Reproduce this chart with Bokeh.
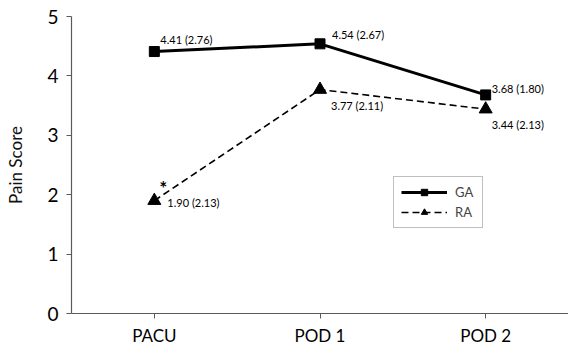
from bokeh.plotting import figure
from bokeh.models import FactorRange, Range1d, Legend, LegendItem, ColumnDataSource
from bokeh.embed import file_html
from bokeh.resources import INLINE
from bokeh.core.properties import value

categories = ["PACU", "POD 1", "POD 2"]
ga_mean = [4.41, 4.54, 3.68]
ga_sd = [2.76, 2.67, 1.80]
ra_mean = [1.90, 3.77, 3.44]
ra_sd = [2.13, 2.11, 2.13]
y_ticks = [0, 1, 2, 3, 4, 5]

FONT = "Lato"
AX_COLOR = "#5a5a5a"

p = figure(width=568, height=348, x_range=FactorRange(factors=categories, range_padding=0),
           y_range=Range1d(0, 5), output_backend="svg", toolbar_location=None,
           min_border_left=71, min_border_right=0, min_border_top=16, min_border_bottom=0)
p.outline_line_color = None
p.grid.visible = False

ga_src = ColumnDataSource(dict(x=categories, y=ga_mean,
                               lab=[f"{m:.2f} ({s:.2f})" for m, s in zip(ga_mean, ga_sd)],
                               dx=[6, 12, 6], dy=[-12, -9, -6]))
ra_src = ColumnDataSource(dict(x=categories, y=ra_mean,
                               lab=[f"{m:.2f} ({s:.2f})" for m, s in zip(ra_mean, ra_sd)],
                               dx=[13, 11, 6], dy=[2, 16, 15]))

ga_line = p.line("x", "y", source=ga_src, line_color="black", line_width=3)
ga_pts = p.scatter("x", "y", source=ga_src, marker="square", size=10, fill_color="black", line_color="black")
ra_line = p.line("x", "y", source=ra_src, line_color="black", line_width=1.6, line_dash="7 4")
ra_pts = p.scatter("x", "y", source=ra_src, marker="triangle", size=13, fill_color="black", line_color="black")

for src in (ga_src, ra_src):
    p.text("x", "y", text="lab", source=src, x_offset="dx", y_offset="dy",
           text_font=value(FONT), text_font_size="11px", text_baseline="middle",
           text_color="black")
star_src = ColumnDataSource(dict(x=[categories[0]], y=[ra_mean[0]], t=["*"]))
p.text("x", "y", text="t", source=star_src, x_offset=5, y_offset=-13,
       text_font=value(FONT), text_font_size="19px", text_font_style="bold",
       text_baseline="middle", text_color="black")

# axes
p.yaxis.ticker = y_ticks
p.yaxis.axis_label = "Pain Score"
p.yaxis.axis_label_text_font = FONT
p.yaxis.axis_label_text_font_size = "17px"
p.yaxis.axis_label_text_font_style = "normal"
p.yaxis.axis_label_text_color = "#111111"
p.yaxis.axis_label_standoff = 18
p.yaxis.major_label_text_font = FONT
p.yaxis.major_label_text_font_size = "19px"
p.yaxis.major_label_standoff = 8
p.yaxis.minor_tick_line_color = None
p.yaxis.major_tick_in = 0
p.yaxis.major_tick_out = 5
for ax in (p.xaxis, p.yaxis):
    ax.axis_line_color = AX_COLOR
    ax.major_tick_line_color = AX_COLOR
    ax.major_label_text_color = "black"
    ax.axis_line_width = 1.2

p.xaxis.major_label_text_font = FONT
p.xaxis.major_label_text_font_size = "17px"
p.xaxis.major_label_standoff = 6
p.xaxis.major_tick_in = 0
p.xaxis.major_tick_out = 5

legend = Legend(items=[LegendItem(label="GA", renderers=[ga_line, ga_pts]),
                       LegendItem(label="RA", renderers=[ra_line, ra_pts])],
                location=(322, 85))
legend.border_line_color = "#7f7f7f"
legend.border_line_width = 1
legend.background_fill_alpha = 1
legend.label_text_font = FONT
legend.label_text_font_size = "13px"
legend.glyph_width = 46
legend.glyph_height = 16
legend.spacing = 4
legend.padding = 7
legend.margin = 0
legend.label_standoff = 8
p.add_layout(legend, "center")

open("out.html", "w").write(file_html(p, INLINE))
